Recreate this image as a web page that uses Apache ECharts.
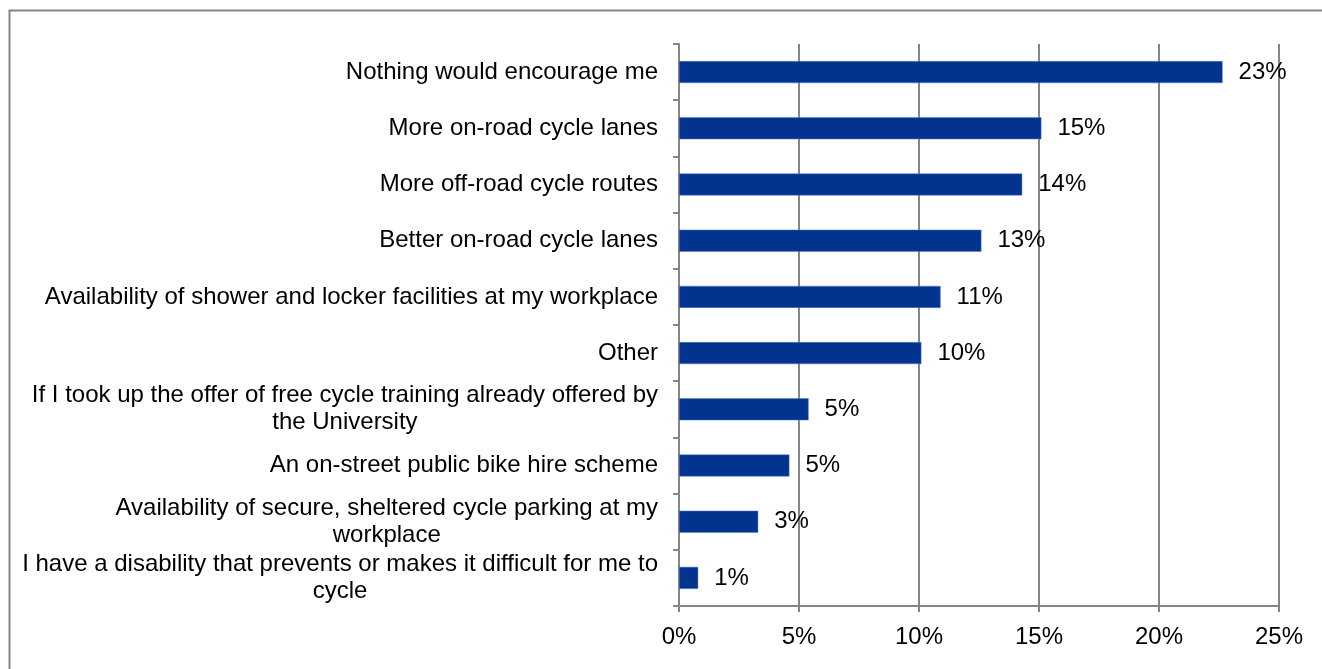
<!DOCTYPE html>
<html>
<head>
<meta charset="utf-8">
<script src="https://cdn.jsdelivr.net/npm/echarts@6/dist/echarts.min.js"></script>
<style>
html,body{margin:0;padding:0;background:#fff;}
#chart{width:1322px;height:669px;}
</style>
</head>
<body>
<div id="chart"></div>
<script>
// Categories listed bottom-to-top (ECharts category axis on y runs bottom up)
var categories = [
  "I have a disability that prevents or makes it difficult for me to\ncycle",
  "Availability of secure, sheltered cycle parking at my\nworkplace",
  "An on-street public bike hire scheme",
  "If I took up the offer of free cycle training already offered by\nthe University",
  "Other",
  "Availability of shower and locker facilities at my workplace",
  "Better on-road cycle lanes",
  "More off-road cycle routes",
  "More on-road cycle lanes",
  "Nothing would encourage me"
];
var values = [0.8, 3.3, 4.6, 5.4, 10.1, 10.9, 12.6, 14.3, 15.1, 22.65];
var xTicks = [0, 5, 10, 15, 20, 25];

var chart = echarts.init(document.getElementById('chart'), null, {renderer: 'canvas'});
var FONT = '"Liberation Sans", Arial, sans-serif';
var FS = 24;
var AXIS = '#868686';

chart.setOption({
  animation: false,
  backgroundColor: '#ffffff',
  graphic: [{
    type: 'rect',
    shape: {x: 9.5, y: 10.5, width: 1400, height: 700},
    style: {fill: 'none', stroke: AXIS, lineWidth: 2},
    silent: true
  }],
  grid: {left: 679, right: 43, top: 44, bottom: 63, containLabel: false},
  xAxis: {
    type: 'value',
    min: xTicks[0],
    max: xTicks[xTicks.length - 1],
    interval: 5,
    axisLine: {show: true, lineStyle: {color: AXIS, width: 2}},
    axisTick: {show: true, length: 6, lineStyle: {color: AXIS, width: 2}},
    splitLine: {show: true, lineStyle: {color: AXIS, width: 2}},
    axisLabel: {
      color: '#000', fontFamily: FONT, fontSize: FS, margin: 19,
      formatter: function (v) { return v + '%'; }
    }
  },
  yAxis: {
    type: 'category',
    data: categories,
    axisLine: {show: true, lineStyle: {color: AXIS, width: 2}},
    axisTick: {show: true, length: 6, lineStyle: {color: AXIS, width: 2}},
    splitLine: {show: false},
    axisLabel: {
      color: '#000', fontFamily: FONT, fontSize: FS, lineHeight: 27, margin: 21,
      align: 'right',
      formatter: function (v) {
        return v.split('\n').map(function (s) { return '{c|' + s + '}'; }).join('\n');
      },
      rich: {
        c: {align: 'center', color: '#000', fontFamily: FONT, fontSize: FS, lineHeight: 27}
      }
    }
  },
  series: [{
    type: 'bar',
    data: values,
    barWidth: 22,
    itemStyle: {color: '#02348f', borderColor: '#5b7fc4', borderWidth: 0.5},
    label: {
      show: true,
      position: 'right',
      distance: 16,
      color: '#000',
      fontFamily: FONT,
      fontSize: FS,
      formatter: function (p) { return Math.round(p.value) + '%'; }
    }
  }]
});
</script>
</body>
</html>
